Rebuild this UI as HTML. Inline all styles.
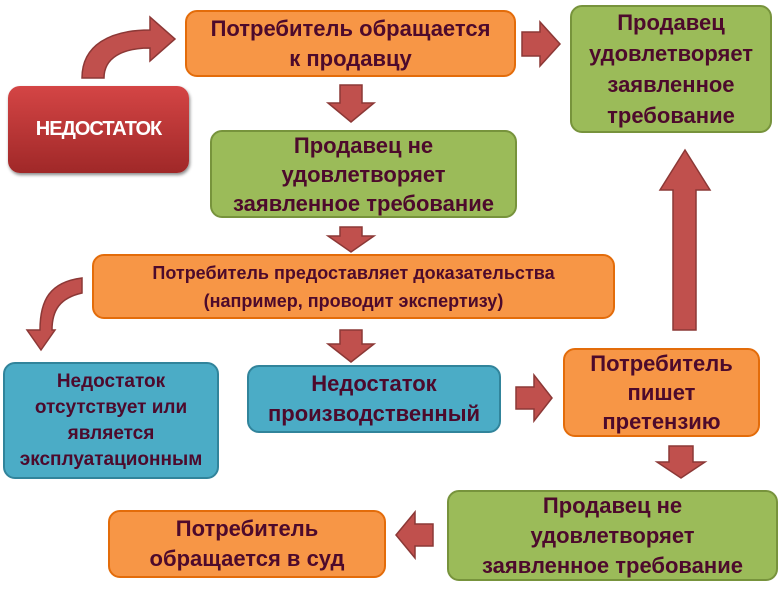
<!DOCTYPE html>
<html><head><meta charset="utf-8"><style>
body{margin:0;width:780px;height:600px;background:#fff;position:relative;overflow:hidden;font-family:"Liberation Sans","DejaVu Sans",sans-serif}
.b{position:absolute;box-sizing:border-box;border-radius:12px;display:flex;align-items:center;justify-content:center;text-align:center;font-weight:bold;color:#4d0a2c;border:2px solid}
.o{background:#f79646;border-color:#e36c0a}
.g{background:#9bbb59;border-color:#77933c}
.t{background:#4bacc6;border-color:#31849b}
svg{position:absolute;left:0;top:0}
</style></head><body>
<svg width="780" height="600">
<g fill="#c0504d" stroke="#8c3836" stroke-width="1.5">
<path d="M82,78 C82,45 110,30 150,30 L150,17 L175,39 L150,61 L150,48 C122,48 104,58 104,78 Z"/>
<path d="M340,85 L362,85 L362,103 L374,103 L351,122 L328,103 L340,103 Z"/>
<path d="M522,32 L540,32 L540,22 L560,44 L540,66 L540,56 L522,56 Z"/>
<path d="M340,227 L362,227 L362,236 L374,236 L351,252 L328,236 L340,236 Z"/>
<path d="M82,278 C50,282 40,300 40,330 L27,330 L41,350 L55,330 L52,330 C52,310 60,298 82,293 Z"/>
<path d="M340,330 L362,330 L362,344 L374,344 L351,362 L328,344 L340,344 Z"/>
<path d="M516,387 L534,387 L534,375 L552,398 L534,421 L534,409 L516,409 Z"/>
<path d="M673,330 L696,330 L696,190 L710,190 L685,150 L660,190 L673,190 Z"/>
<path d="M669,446 L693,446 L693,462 L705,462 L681,478 L657,462 L669,462 Z"/>
<path d="M433,524 L433,546 L415,546 L415,558 L396,535 L415,512 L415,524 Z"/>
</g>
</svg>
<div class="b o" style="left:185px;top:10px;width:331px;height:67px;font-size:22px;line-height:30px">Потребитель обращается<br>к продавцу</div>
<div class="b g" style="left:570px;top:5px;width:202px;height:128px;font-size:22px;line-height:31px">Продавец<br>удовлетворяет<br>заявленное<br>требование</div>
<div class="b" style="left:8px;top:86px;width:181px;height:87px;font-size:20px;color:#fff;border:none;background:linear-gradient(#d44545,#a02828);box-shadow:1px 2px 3px #888;letter-spacing:-1px">НЕДОСТАТОК</div>
<div class="b g" style="left:210px;top:130px;width:307px;height:88px;font-size:22px;line-height:29px">Продавец не<br>удовлетворяет<br>заявленное требование</div>
<div class="b o" style="left:92px;top:254px;width:523px;height:65px;font-size:18px;line-height:28px">Потребитель предоставляет доказательства<br>(например, проводит экспертизу)</div>
<div class="b t" style="left:3px;top:362px;width:216px;height:117px;font-size:19px;line-height:26px">Недостаток<br>отсутствует или<br>является<br>эксплуатационным</div>
<div class="b t" style="left:247px;top:365px;width:254px;height:68px;font-size:22px;line-height:30px">Недостаток<br>производственный</div>
<div class="b o" style="left:563px;top:348px;width:197px;height:89px;font-size:22px;line-height:29px">Потребитель<br>пишет<br>претензию</div>
<div class="b g" style="left:447px;top:490px;width:331px;height:91px;font-size:22px;line-height:30px">Продавец не<br>удовлетворяет<br>заявленное требование</div>
<div class="b o" style="left:108px;top:510px;width:278px;height:68px;font-size:22px;line-height:30px">Потребитель<br>обращается в суд</div>
</body></html>
